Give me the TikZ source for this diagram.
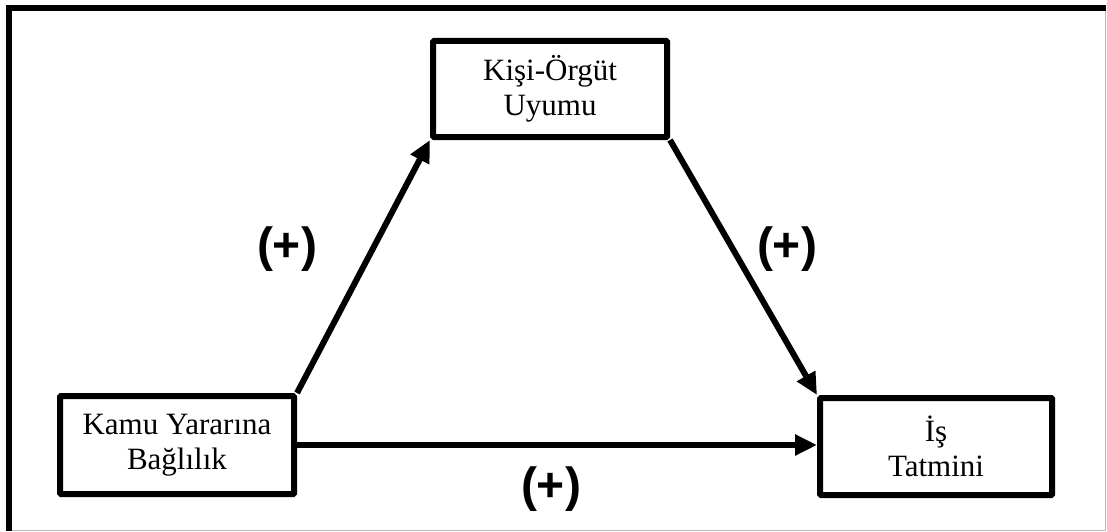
\documentclass[tikz,border=0pt]{standalone}
\usepackage{fontspec}
\setmainfont{Liberation Serif}
\newfontfamily\plusfont{Liberation Sans}
\usetikzlibrary{arrows.meta}
\tikzset{
  varbox/.style={draw=black, line width=6pt, rounded corners=1pt, fill=white,
    align=center, font=\fontsize{31}{35}\selectfont, inner sep=0pt},
  effect/.style={-{Triangle[length=22pt,width=20pt]}, line width=6pt},
  sign/.style={font=\plusfont\bfseries\fontsize{48}{52}\selectfont, inner sep=0pt}
}
\begin{document}
\begin{tikzpicture}[x=1pt,y=-1pt]
\useasboundingbox (0,0) rectangle (1107,532);
\fill[white] (0,0) rectangle (1107,532);
% frame
\draw[gray!55, line width=1pt] (1105,8) -- (1105,530) -- (9,530);
\draw[black, line width=6pt] (6,8) -- (1106,8);
\draw[black, line width=6pt] (9,5) -- (9,531);
% boxes
\node[varbox, minimum width=234pt, minimum height=96pt] (M) at (550,89) {Kişi-Örgüt\\Uyumu};
\node[varbox, minimum width=234pt, minimum height=98pt] (X) at (177,445) {Kamu Yararına\\Bağlılık};
\node[varbox, minimum width=232pt, minimum height=97pt] (Y) at (936,446.5) {İş\\Tatmini};
% arrows
\draw[effect] (X.north east) -- (M.south west);
\draw[effect] (M.south east) -- (Y.north west);
\draw[effect] (X.east) -- (X.east -| Y.west);
% labels
\node[sign] (s1) at (287,249) {(+)};
\node[sign] (s2) at (787,249) {(+)};
\node[sign] (s3) at (551,489) {(+)};
\end{tikzpicture}
\end{document}
